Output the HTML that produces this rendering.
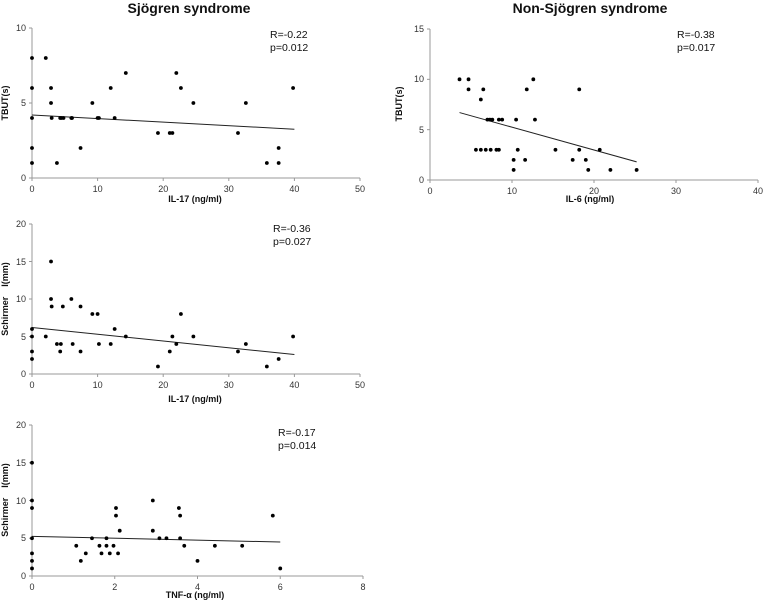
<!DOCTYPE html>
<html><head><meta charset="utf-8"><style>
html,body{margin:0;padding:0;background:#fff;width:765px;height:605px;overflow:hidden}
svg text{font-family:"Liberation Sans",sans-serif}
.t{font-size:9px;fill:#333}
.s{font-size:10.5px;fill:#111}
.al{font-size:9px;font-weight:bold;fill:#111}
.ti{font-size:14px;font-weight:bold;fill:#111}
</style></head><body>
<svg id="s" width="765" height="605" xmlns="http://www.w3.org/2000/svg">
<text class="ti" x="189" y="13" text-anchor="middle">Sjögren syndrome</text>
<text class="ti" x="590" y="13" text-anchor="middle">Non-Sjögren syndrome</text>

<text class="s" x="270" y="38">R=-0.22</text><text class="s" x="270" y="51">p=0.012</text>
<text class="s" x="677" y="38">R=-0.38</text><text class="s" x="677" y="51">p=0.017</text>
<text class="s" x="273" y="232">R=-0.36</text><text class="s" x="273" y="245">p=0.027</text>
<text class="s" x="278" y="436">R=-0.17</text><text class="s" x="278" y="449">p=0.014</text>

<text class="al" x="195" y="202" text-anchor="middle">IL-17 (ng/ml)</text>
<text class="al" x="590" y="202" text-anchor="middle">IL-6 (ng/ml)</text>
<text class="al" x="195" y="402" text-anchor="middle">IL-17 (ng/ml)</text>
<text class="al" x="195" y="598" text-anchor="middle">TNF-α (ng/ml)</text>

<text class="al" transform="translate(8,103) rotate(-90)" text-anchor="middle">TBUT(s)</text>
<text class="al" transform="translate(402,104) rotate(-90)" text-anchor="middle">TBUT(s)</text>
<text class="al" transform="translate(8,299) rotate(-90)" text-anchor="middle">Schirmer&#160;&#160;&#160;&#160;I(mm)</text>
<text class="al" transform="translate(8,500) rotate(-90)" text-anchor="middle">Schirmer&#160;&#160;&#160;&#160;I(mm)</text>

<g class="t" text-anchor="end"><text x="26" y="31">10</text><text x="26" y="106">5</text><text x="26" y="181">0</text></g>
<g class="t" text-anchor="middle"><text x="32" y="192">0</text><text x="97.6" y="192">10</text><text x="163.2" y="192">20</text><text x="228.8" y="192">30</text><text x="294.4" y="192">40</text><text x="360" y="192">50</text></g>
<g class="t" text-anchor="end"><text x="424" y="32">15</text><text x="424" y="82">10</text><text x="424" y="133">5</text><text x="424" y="183">0</text></g>
<g class="t" text-anchor="middle"><text x="430" y="194">0</text><text x="512" y="194">10</text><text x="594" y="194">20</text><text x="676" y="194">30</text><text x="758" y="194">40</text></g>
<g class="t" text-anchor="end"><text x="26" y="227">20</text><text x="26" y="265">15</text><text x="26" y="302">10</text><text x="26" y="340">5</text><text x="26" y="377">0</text></g>
<g class="t" text-anchor="middle"><text x="32" y="388">0</text><text x="97.6" y="388">10</text><text x="163.2" y="388">20</text><text x="228.8" y="388">30</text><text x="294.4" y="388">40</text><text x="360" y="388">50</text></g>
<g class="t" text-anchor="end"><text x="26" y="428">20</text><text x="26" y="466">15</text><text x="26" y="504">10</text><text x="26" y="541">5</text><text x="26" y="579">0</text></g>
<g class="t" text-anchor="middle"><text x="32" y="590">0</text><text x="114.8" y="590">2</text><text x="197.5" y="590">4</text><text x="280.3" y="590">6</text><text x="363" y="590">8</text></g>
<g id="g"></g>
</svg>
<script>
var g=document.getElementById('g'),NS='http://www.w3.org/2000/svg';
function el(n,a){var e=document.createElementNS(NS,n);for(var k in a)e.setAttribute(k,a[k]);g.appendChild(e);}
function panel(x0,x1,xmax,xstep,y0,y1,ymax,ystep,pts,ln){
 var sx=function(v){return x0+(x1-x0)*v/xmax},sy=function(v){return y0-(y0-y1)*v/ymax};
 el('line',{x1:x0,y1:y0,x2:x1,y2:y0,stroke:'#999','stroke-width':1});
 el('line',{x1:x0,y1:y0,x2:x0,y2:y1,stroke:'#999','stroke-width':1});
 for(var v=0;v<=xmax+1e-9;v+=xstep)el('line',{x1:sx(v),y1:y0,x2:sx(v),y2:y0+3,stroke:'#999'});
 for(var v=0;v<=ymax+1e-9;v+=ystep)el('line',{x1:x0-3,y1:sy(v),x2:x0,y2:sy(v),stroke:'#999'});
 el('line',{x1:sx(ln[0]),y1:sy(ln[1]),x2:sx(ln[2]),y2:sy(ln[3]),stroke:'#222','stroke-width':1});
 pts.forEach(function(p){el('circle',{cx:sx(p[0]),cy:sy(p[1]),r:1.9,fill:'#000'})});
}
panel(32,360,50,10,178,28,10,5,[[0,8],[0,6],[0,4],[0,2],[0,1],[2.1,8],[2.9,6],[2.9,5],[3,4],[3.8,1],[4.3,4],[4.5,4],[4.8,4],[6,4],[6.1,4],[7.4,2],[9.2,5],[10,4],[10.2,4],[12,6],[12.6,4],[14.3,7],[19.2,3],[21,3],[21.4,3],[22,7],[22.7,6],[24.6,5],[31.4,3],[32.6,5],[35.8,1],[37.6,2],[37.6,1],[39.8,6]],[0,4.2,40,3.25]);
panel(430,758,40,10,180,29,15,5,[[3.6,10],[4.7,10],[4.7,9],[6.5,9],[6.2,8],[7,6],[7.3,6],[7.6,6],[8.4,6],[8.8,6],[5.6,3],[6.2,3],[6.8,3],[7.4,3],[8.1,3],[8.4,3],[10.2,2],[10.2,1],[10.5,6],[10.7,3],[11.6,2],[11.8,9],[12.6,10],[12.8,6],[15.3,3],[17.4,2],[18.2,9],[18.2,3],[19,2],[19.3,1],[20.7,3],[22,1],[25.2,1]],[3.6,6.7,25.2,1.8]);
panel(32,360,50,10,374,224,20,5,[[0,6],[0,5],[0,3],[0,2],[2.1,5],[2.9,15],[2.9,10],[3,9],[3.8,4],[4.3,3],[4.4,4],[4.7,9],[6,10],[6.2,4],[7.4,9],[7.4,3],[9.2,8],[10,8],[10.2,4],[12,4],[12.6,6],[14.3,5],[19.2,1],[21,3],[21.4,5],[22,4],[22.7,8],[24.6,5],[31.4,3],[32.6,4],[35.8,1],[37.6,2],[39.8,5]],[0,6.2,40,2.6]);
panel(32,363,8,2,576,425,20,5,[[0,15],[0,10],[0,9],[0,5],[0,3],[0,2],[0,1],[1.07,4],[1.18,2],[1.3,3],[1.45,5],[1.63,4],[1.68,3],[1.8,5],[1.8,4],[1.88,3],[1.97,4],[2.03,9],[2.03,8],[2.08,3],[2.12,6],[2.92,10],[2.92,6],[3.08,5],[3.25,5],[3.55,9],[3.58,8],[3.58,5],[3.68,4],[4,2],[4.42,4],[5.08,4],[5.82,8],[6,1]],[0,5.25,6,4.5]);
</script>
</body></html>
